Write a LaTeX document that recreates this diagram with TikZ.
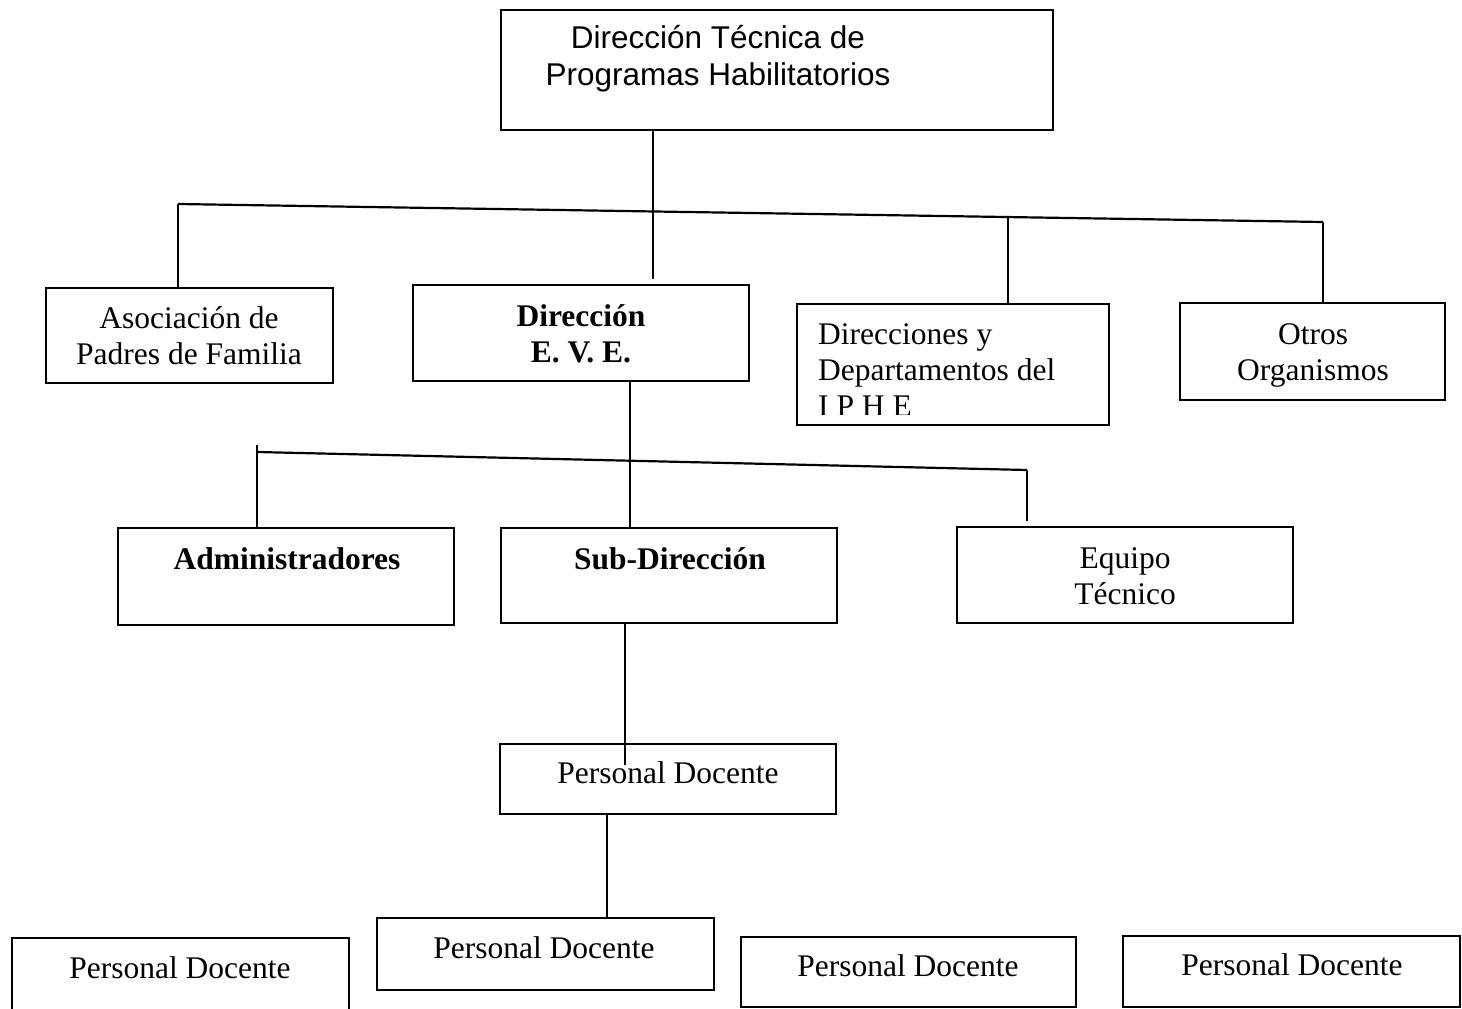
\documentclass[tikz,border=0pt]{standalone}
\usepackage{fontspec}
\setmainfont{Liberation Serif}
\newfontfamily\arialf{Liberation Sans}
\begin{document}
\begin{tikzpicture}[x=1pt,y=-1pt,
  box/.style={draw, line width=2pt, inner sep=0pt},
  lbl/.style={inner sep=0pt, font=\fontsize{31.5}{36}\selectfont, align=center},
  blbl/.style={lbl, font=\fontsize{31.5}{36}\selectfont\bfseries},
  conn/.style={line width=2.2pt}]
\useasboundingbox (0,0) rectangle (1462,1009);
% boxes
\node[box, minimum width=552pt, minimum height=120pt] (top) at (777,70) {};
\node[box, minimum width=287pt, minimum height=95pt] (asoc) at (189.5,335.5) {};
\node[box, minimum width=336pt, minimum height=96pt] (eve) at (581,333) {};
\node[box, minimum width=312pt, minimum height=121pt] (direcc) at (953,364.5) {};
\node[box, minimum width=265pt, minimum height=97pt] (otros) at (1312.5,351.5) {};
\node[box, minimum width=336pt, minimum height=97pt] (admin) at (286,576.5) {};
\node[box, minimum width=336pt, minimum height=95pt] (sub) at (669,575.5) {};
\node[box, minimum width=336pt, minimum height=96pt] (equip) at (1125,575) {};
\node[box, minimum width=336pt, minimum height=70pt] (pd) at (668,779) {};
\node[box, minimum width=337pt, minimum height=102pt] (b1) at (180.5,989) {};
\node[box, minimum width=337pt, minimum height=72pt] (b2) at (545.5,954) {};
\node[box, minimum width=335pt, minimum height=70pt] (b3) at (908.5,972) {};
\node[box, minimum width=337pt, minimum height=71pt] (b4) at (1291.5,971.5) {};
% texts
\node[lbl, font=\fontsize{31.5}{37}\selectfont\arialf] (ttop) at (718,59) {Dirección Técnica de\\Programas Habilitatorios};
\node[lbl] (tasoc) at (189,336) {Asociación de\\Padres de Familia};
\node[blbl] (teve) at (581,334) {Dirección\\E. V. E.};
\begin{scope}
\clip (797,304) rectangle (1109,414);
\node[lbl, align=left, anchor=west] (tdirecc) at (818,370) {Direcciones y\\Departamentos del\\I P H E};
\end{scope}
\node[lbl] (totros) at (1313,355) {Otros\\Organismos};
\node[blbl] (tadmin) at (287,559) {Administradores};
\node[blbl] (tsub) at (670,559) {Sub-Dirección};
\node[lbl] (tequip) at (1125,576) {Equipo\\Técnico};
\node[lbl] (tpd) at (668,773) {Personal Docente};
\node[lbl] (tb1) at (180,968) {Personal Docente};
\node[lbl] (tb2) at (544,948) {Personal Docente};
\node[lbl] (tb3) at (908,966) {Personal Docente};
\node[lbl] (tb4) at (1292,965) {Personal Docente};
% connectors level 1
\coordinate (h1L) at (178,204);
\coordinate (h1R) at (1323,222);
\coordinate (v1e) at (653,279);
\coordinate (h1c) at (1008,217);
\draw[conn] (h1L) -- (h1R);
\draw[conn] (top.south -| v1e) -- (v1e);
\draw[conn] (h1L) -- (h1L |- asoc.north);
\draw[conn] (h1c) -- (h1c |- direcc.north);
\draw[conn] (h1R) -- (h1R |- otros.north);
% level 2
\coordinate (v2) at (630,460);
\coordinate (h2L) at (257,452);
\coordinate (h2Lt) at (257,445);
\coordinate (h2R) at (1027,470);
\coordinate (h2Re) at (1027,521);
\draw[conn] (eve.south -| v2) -- (sub.north -| v2);
\draw[conn] (h2L) -- (h2R);
\draw[conn] (h2Lt) -- (h2Lt |- admin.north);
\draw[conn] (h2R) -- (h2Re);
% level 3
\coordinate (v3e) at (625,765);
\draw[conn] (sub.south -| v3e) -- (v3e);
% level 4
\coordinate (v4) at (607,822);
\draw[conn] (pd.south -| v4) -- (b2.north -| v4);
\end{tikzpicture}
\end{document}
